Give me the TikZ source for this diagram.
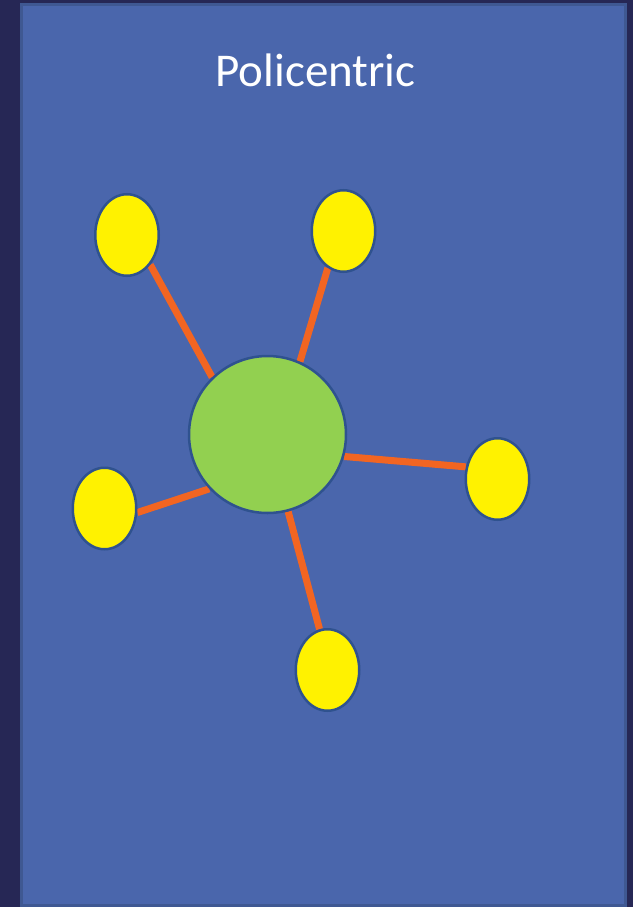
\documentclass[tikz,border=0pt]{standalone}
\usepackage{fontspec}
\setmainfont{Carlito}
\usetikzlibrary{shapes.geometric}
\pgfdeclarelayer{bg}
\pgfdeclarelayer{links}
\pgfsetlayers{bg,links,main}
\definecolor{navy}{HTML}{262755}
\definecolor{panel}{HTML}{4A66AC}
\definecolor{panelborder}{HTML}{3F5892}
\definecolor{shapeline}{HTML}{2F528F}
\definecolor{hubgreen}{HTML}{92D050}
\definecolor{linkorange}{HTML}{F26522}
\tikzset{
  hub/.style={circle, draw=shapeline, line width=2.5pt, fill=hubgreen, minimum size=157pt, inner sep=0pt},
  leaf/.style={ellipse, draw=shapeline, line width=2.5pt, fill=yellow, minimum width=63.5pt, minimum height=81.5pt, inner sep=0pt},
  link/.style={draw=linkorange, line width=7pt},
  title/.style={text=white, font=\fontsize{47}{54}\selectfont, inner sep=0pt, anchor=base}
}
\begin{document}
\begin{tikzpicture}[x=1pt,y=-1pt]
\begin{pgfonlayer}{bg}
\fill[navy] (0,0) rectangle (633,907);
\fill[panel, draw=panelborder, line width=3pt] (21.5,4.5) rectangle (625.5,905.5);
\end{pgfonlayer}
\useasboundingbox (0,0) rectangle (633,907);
\node[title] (t) at (315.5,86) {Policentric};
\node[hub] (c) at (267.5,434.5) {};
\node[leaf] (e1) at (127,235) {};
\node[leaf] (e2) at (343.5,231) {};
\node[leaf] (e3) at (497.5,479) {};
\node[leaf] (e4) at (104.5,508.5) {};
\node[leaf] (e5) at (327.5,670) {};
\begin{pgfonlayer}{links}
\draw[link] (c.134.7) -- (e1.-52);
\draw[link] (c.66.3) -- (e2.247.1);
\draw[link] (c.-16.9) -- (e3.159.4);
\draw[link] (c.223.3) -- (e4.-7);
\draw[link] (c.-75.5) -- (e5.101.8);
\end{pgfonlayer}
\end{tikzpicture}
\end{document}
